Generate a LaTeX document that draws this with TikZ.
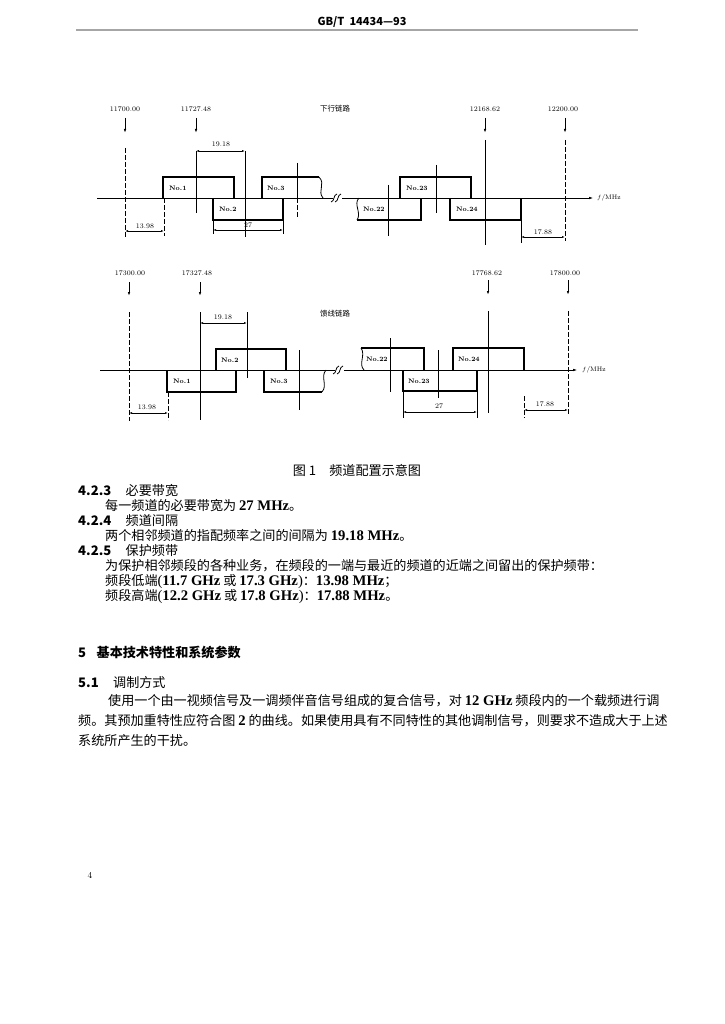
\documentclass[tikz,border=0pt]{standalone}
\usepackage{fontspec}
\newfontfamily\zh{Noto Sans CJK SC}
\newfontfamily\en[Scale=1.12]{Liberation Serif}
\usetikzlibrary{arrows.meta}

\begin{document}
\begin{tikzpicture}[x=1pt,y=-1pt,
    box/.style={line width=1.6pt},
    cline/.style={line width=0.8pt},
    bline/.style={line width=0.8pt,dash pattern=on 5pt off 2pt},
    dimline/.style={line width=0.7pt,{Latex[length=3pt,width=2pt]}-{Latex[length=3pt,width=2pt]}},
    fmark/.style={line width=0.8pt,-{Latex[length=4pt,width=2.5pt]}},
    faxis/.style={line width=0.9pt},
    nolab/.style={anchor=west,inner sep=0pt,font=\fontsize{6.5}{7}\selectfont\bfseries},
    frq/.style={inner sep=0pt,font=\fontsize{7}{8}\selectfont},
    zhlab/.style={inner sep=0pt,font=\fontsize{7.5}{8}\selectfont\zh},
    bodytxt/.style={anchor=base west,inner sep=0pt,font=\fontsize{13.1}{15}\selectfont\zh}]
\useasboundingbox[fill=white] (0,0) rectangle (724,1024);

% header
\node[inner sep=0pt,font=\fontsize{11}{13}\selectfont\zh\bfseries] (hd) at (362,22) {GB/T\ \ 14434—93};
\draw[gray!70,line width=1.5pt] (76,30) -- (638,30);

% ---- downlink ----
\node[frq] (d0) at (125,109) {11700.00};
\node[frq] (d1) at (196,109) {11727.48};
\node[zhlab] (dname) at (335,109) {下行链路};
\node[frq] (d24) at (485,109) {12168.62};
\node[frq] (d25) at (563,109) {12200.00};
\draw[fmark] (125,118) -- (125,133);
\draw[fmark] (196,118) -- (196,133);
\draw[fmark] (485,118) -- (485,133);
\draw[fmark] (565,118) -- (565,133);

\draw[faxis] (97,198) -- (333,198);
\draw[faxis,-{Latex[length=5pt,width=2.5pt]}] (342,198) -- (594,198);
\draw[cline] (331,202) .. controls (335,201) and (333,195) .. (337,194);
\draw[cline] (335,202) .. controls (339,201) and (337,195) .. (341,194);
\node[anchor=west,inner sep=0pt,font=\fontsize{6.5}{7}\selectfont] (dunit) at (597,198) {$f$/MHz};

% channels
\draw[box] (163,198) -- (163,177) -- (234,177) -- (234,198);
\node[nolab] (dc1) at (169,188) {No.1};
\draw[box] (213,198) -- (213,220) -- (283,220) -- (283,198);
\node[nolab] (dc2) at (219,209) {No.2};
\draw[box] (262,198) -- (262,177) -- (319,177);
\draw[cline] (319,177) .. controls (326,184) and (317,191) .. (323,198);
\node[nolab] (dc3) at (267,188) {No.3};
\draw[cline] (359,198) .. controls (353,204) and (362,213) .. (357,220);
\draw[box] (357,220) -- (421,220) -- (421,198);
\node[nolab] (dc22) at (363,209) {No.22};
\draw[box] (400,198) -- (400,177) -- (471,177) -- (471,198);
\node[nolab] (dc23) at (406,188) {No.23};
\draw[box] (450,198) -- (450,220) -- (521,220) -- (521,198);
\node[nolab] (dc24) at (456,209) {No.24};

% center and edge lines
\draw[bline] (125,148) -- (125,238);
\draw[cline] (196,151) -- (196,213);
\draw[cline] (245,151) -- (245,237);
\draw[cline] (297,163) -- (297,198);
\draw[bline] (297,198) -- (297,217);
\draw[bline] (164,198) -- (164,236);
\draw[cline] (213,220) -- (213,234);
\draw[cline] (283,220) -- (283,234);
\draw[cline] (388,185) -- (388,236);
\draw[cline] (436,165) -- (436,213);
\draw[cline] (485,140) -- (485,245);
\draw[bline] (565,140) -- (565,241);
\draw[cline] (521,220) -- (521,243);

% dimensions
\draw[dimline] (196,151) -- (245,151);
\node[frq] (dd1) at (221,144) {19.18};
\draw[dimline] (213,230) -- (283,230);
\node[frq] (dd2) at (248,225.5) {27};
\draw[dimline] (125,231) -- (164,231);
\node[frq] (dd3) at (145,226) {13.98};
\draw[dimline] (521,237) -- (565,237);
\node[frq] (dd4) at (543,232) {17.88};

% ---- feeder link ----
\node[frq] (u0) at (130,273) {17300.00};
\node[frq] (u1) at (197,273) {17327.48};
\node[zhlab] (uname) at (335,314) {馈线链路};
\node[frq] (u24) at (487,273) {17768.62};
\node[frq] (u25) at (565,273) {17800.00};
\draw[fmark] (129,282) -- (129,296);
\draw[fmark] (200,282) -- (200,296);
\draw[fmark] (488,280) -- (488,295);
\draw[fmark] (568,280) -- (568,295);

\draw[faxis] (100,370) -- (335,370);
\draw[faxis,-{Latex[length=5pt,width=2.5pt]}] (344,370) -- (578,370);
\draw[cline] (333,374) .. controls (337,373) and (335,367) .. (339,366);
\draw[cline] (337,374) .. controls (341,373) and (339,367) .. (343,366);
\node[anchor=west,inner sep=0pt,font=\fontsize{6.5}{7}\selectfont] (uunit) at (582,370) {$f$/MHz};

% channels
\draw[box] (167,370) -- (167,392) -- (236,392) -- (236,370);
\node[nolab] (uc1) at (173,381) {No.1};
\draw[box] (216,370) -- (216,349) -- (286,349) -- (286,370);
\node[nolab] (uc2) at (221,360) {No.2};
\draw[box] (264,370) -- (264,392) -- (322,392);
\draw[cline] (322,392) .. controls (328,385) and (320,377) .. (326,370);
\node[nolab] (uc3) at (270,381) {No.3};
\draw[cline] (364,370) .. controls (358,364) and (366,355) .. (361,348);
\draw[box] (361,348) -- (424,348) -- (424,370);
\node[nolab] (uc22) at (366,359) {No.22};
\draw[box] (403,370) -- (403,391) -- (477,391) -- (477,370);
\node[nolab] (uc23) at (408,381) {No.23};
\draw[box] (453,370) -- (453,348) -- (524,348) -- (524,370);
\node[nolab] (uc24) at (458,359) {No.24};

% center and edge lines
\draw[bline] (129,312) -- (129,421);
\draw[cline] (200,312) -- (200,420);
\draw[cline] (247,312) -- (247,378);
\draw[cline] (299,350) -- (299,410);
\draw[bline] (168,392) -- (168,420);
\draw[cline] (390,338) -- (390,392);
\draw[cline] (438,350) -- (438,398);
\draw[cline] (488,311) -- (488,413);
\draw[bline] (568,311) -- (568,415);
\draw[cline] (403,391) -- (403,418);
\draw[cline] (477,391) -- (477,418);
\draw[bline] (524,396) -- (524,418);

% dimensions
\draw[dimline] (200,323) -- (247,323);
\node[frq] (ud1) at (223,317) {19.18};
\draw[dimline] (129,413) -- (168,413);
\node[frq] (ud2) at (147,407) {13.98};
\draw[dimline] (403,412) -- (477,412);
\node[frq] (ud3) at (439,406) {27};
\draw[dimline] (524,410) -- (568,410);
\node[frq] (ud4) at (545,404) {17.88};

% ---- text ----
\node[inner sep=0pt,font=\fontsize{13.1}{15}\selectfont\zh] (cap) at (357,470) {图 1\quad 频道配置示意图};

\node[bodytxt] (h423) at (78,495) {{\bfseries 4.2.3}\hspace{1.1em}必要带宽};
\node[bodytxt] (p423) at (105,510) {每一频道的必要带宽为 {\en\bfseries 27 MHz}。};
\node[bodytxt] (h424) at (78,525) {{\bfseries 4.2.4}\hspace{1.1em}频道间隔};
\node[bodytxt] (p424) at (105,540) {两个相邻频道的指配频率之间的间隔为 {\en\bfseries 19.18 MHz}。};
\node[bodytxt] (h425) at (78,555) {{\bfseries 4.2.5}\hspace{1.1em}保护频带};
\node[bodytxt] (p425a) at (105,570) {为保护相邻频段的各种业务，在频段的一端与最近的频道的近端之间留出的保护频带：};
\node[bodytxt] (p425b) at (105,585) {频段低端{\en(\textbf{11.7 GHz}} 或 {\en\textbf{17.3 GHz})}：{\en\bfseries 13.98 MHz}；};
\node[bodytxt] (p425c) at (105,600) {频段高端{\en(\textbf{12.2 GHz}} 或 {\en\textbf{17.8 GHz})}：{\en\bfseries 17.88 MHz}。};

\node[bodytxt,font=\fontsize{13.1}{15}\selectfont\zh\bfseries] (h5) at (78,657) {5\hspace{0.8em}基本技术特性和系统参数};
\node[bodytxt] (h51) at (78,687) {{\bfseries 5.1}\hspace{1.1em}调制方式};
\node[bodytxt] (p51a) at (108,705) {使用一个由一视频信号及一调频伴音信号组成的复合信号，对 {\en\bfseries 12 GHz} 频段内的一个载频进行调};
\node[bodytxt] (p51b) at (78,725) {频。其预加重特性应符合图 {\en\bfseries 2} 的曲线。如果使用具有不同特性的其他调制信号，则要求不造成大于上述};
\node[bodytxt] (p51c) at (78,745) {系统所产生的干扰。};

\node[inner sep=0pt,font=\fontsize{9}{10}\selectfont] (pg) at (90,875) {4};
\end{tikzpicture}
\end{document}
